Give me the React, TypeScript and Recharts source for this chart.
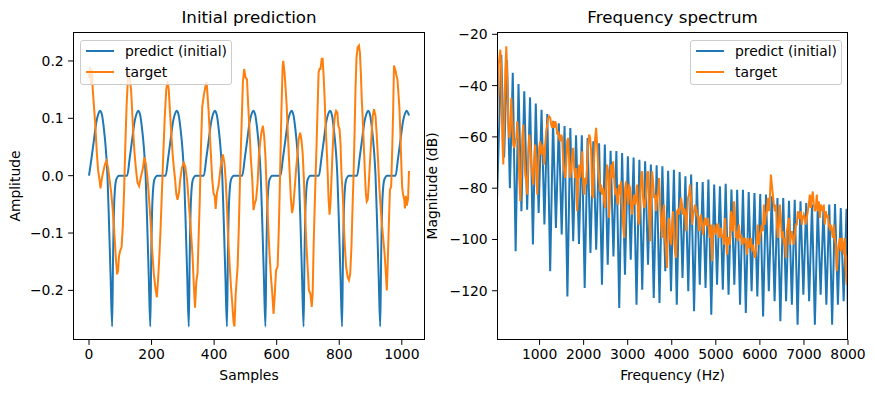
import { Line, LineChart, XAxis, YAxis } from "recharts";

const BLUE = "#1f77b4";
const ORANGE = "#ff7f0e";
const FONT = "'DejaVu Sans', sans-serif";

// time domain, [sample, amplitude]
const predictWave: [number, number][] = [
  [0, 0], [8, 0.03], [16, 0.063], [24, 0.095], [30, 0.108], [35, 0.113], [41, 0.107], [48, 0.08], [54, 0.045], [59, 0], [64, -0.083], [69, -0.175], [74, -0.263], [77, -0.14], [81, -0.042], [87, -0.007], [96, 0], [116, 0],
  [122, 0], [130, 0.03], [138, 0.063], [146, 0.095], [152, 0.108], [157, 0.113], [163, 0.107], [170, 0.08], [176, 0.045], [181, 0], [186, -0.083], [191, -0.175], [196, -0.263], [199, -0.14], [203, -0.042], [209, -0.007], [218, 0], [238, 0],
  [245, 0], [253, 0.03], [261, 0.063], [269, 0.095], [275, 0.108], [280, 0.113], [286, 0.107], [293, 0.08], [299, 0.045], [304, 0], [309, -0.083], [314, -0.175], [319, -0.263], [322, -0.14], [326, -0.042], [332, -0.007], [341, 0], [361, 0],
  [367, 0], [375, 0.03], [383, 0.063], [391, 0.095], [397, 0.108], [402, 0.113], [408, 0.107], [415, 0.08], [421, 0.045], [426, 0], [431, -0.083], [436, -0.175], [441, -0.263], [444, -0.14], [448, -0.042], [454, -0.007], [463, 0], [483, 0],
  [490, 0], [498, 0.03], [506, 0.063], [514, 0.095], [520, 0.108], [525, 0.113], [531, 0.107], [538, 0.08], [544, 0.045], [549, 0], [554, -0.083], [559, -0.175], [564, -0.263], [567, -0.14], [571, -0.042], [577, -0.007], [586, 0], [606, 0],
  [612, 0], [620, 0.03], [628, 0.063], [636, 0.095], [642, 0.108], [647, 0.113], [653, 0.107], [660, 0.08], [666, 0.045], [671, 0], [676, -0.083], [681, -0.175], [686, -0.263], [689, -0.14], [693, -0.042], [699, -0.007], [708, 0], [728, 0],
  [735, 0], [743, 0.03], [751, 0.063], [759, 0.095], [765, 0.108], [770, 0.113], [776, 0.107], [783, 0.08], [789, 0.045], [794, 0], [799, -0.083], [804, -0.175], [809, -0.263], [812, -0.14], [816, -0.042], [822, -0.007], [831, 0], [851, 0],
  [857, 0], [865, 0.03], [873, 0.063], [881, 0.095], [887, 0.108], [892, 0.113], [898, 0.107], [905, 0.08], [911, 0.045], [916, 0], [921, -0.083], [926, -0.175], [931, -0.263], [934, -0.14], [938, -0.042], [944, -0.007], [953, 0], [973, 0],
  [980, 0], [988, 0.03], [996, 0.063], [1004, 0.095], [1010, 0.108], [1015, 0.113], [1021, 0.108], [1023, 0.105]
];

const targetWave: [number, number][] = [
  [0, 0.17], [3, 0.19], [6, 0.16], [9, 0.185], [12, 0.15], [16, 0.12], [20, 0.09], [25, 0.04], [29, 0.01], [33, -0.005], [37, -0.022], [41, -0.005], [46, 0.008], [51, 0.02], [56, 0.026], [61, 0.013], [66, -0.008], [71, -0.03], [76, -0.06], [81, -0.1], [86, -0.145], [90, -0.172], [93, -0.165], [96, -0.14], [100, -0.13], [104, -0.125], [108, -0.09], [112, -0.03], [116, 0.05], [120, 0.12],
  [124, 0.165], [127, 0.18], [131, 0.17], [135, 0.145], [140, 0.09], [145, 0.043], [150, 0.012], [155, -0.012], [160, -0.018], [166, -0.002], [172, 0.012], [177, 0.032], [182, 0.02], [187, -0.005], [192, -0.04], [197, -0.08], [202, -0.13], [207, -0.17], [212, -0.195], [217, -0.212], [221, -0.18], [225, -0.14], [229, -0.09], [233, -0.03], [237, 0.03], [242, 0.1],
  [247, 0.15], [251, 0.165], [255, 0.15], [259, 0.11], [263, 0.075], [267, 0.04], [271, 0.015], [275, -0.005], [279, -0.032], [283, -0.042], [288, -0.028], [292, -0.005], [297, 0.014], [303, 0.022], [308, 0.015], [314, -0.01], [320, -0.055], [325, -0.09], [331, -0.14], [335, -0.19], [339, -0.23], [343, -0.185], [347, -0.17], [350, -0.115], [354, -0.045], [358, 0.05], [362, 0.12],
  [367, 0.14], [372, 0.155], [376, 0.163], [382, 0.116], [386, 0.075], [390, 0.034], [394, -0.007], [398, -0.03], [402, -0.036], [405, -0.058], [409, -0.03], [414, -0.018], [421, 0.016], [428, 0.037], [433, 0.022], [437, -0.007], [441, -0.054], [445, -0.11], [450, -0.159], [454, -0.194], [458, -0.223], [462, -0.255], [465, -0.263], [469, -0.206], [472, -0.182], [475, -0.16], [479, -0.09], [483, 0], [488, 0.092],
  [492, 0.163], [496, 0.186], [500, 0.172], [505, 0.168], [509, 0.122], [513, 0.081], [517, 0.034], [522, -0.007], [526, -0.06], [530, -0.048], [534, -0.042], [539, -0.013], [543, 0.034], [547, 0.057], [551, 0.075], [556, 0.087], [560, 0.069], [564, 0.034], [568, -0.025], [573, -0.089], [577, -0.136], [581, -0.171], [586, -0.206], [590, -0.241], [594, -0.206], [598, -0.165], [603, -0.159], [607, -0.089], [611, 0.005], [615, 0.11],
  [619, 0.19], [621, 0.2], [625, 0.18], [628, 0.157], [632, 0.122], [636, 0.069], [641, 0.011], [645, -0.036], [649, -0.065], [653, -0.054], [658, -0.019], [662, 0.011], [666, 0.034], [670, 0.063], [675, 0.075], [679, 0.063], [683, 0.04], [687, -0.007], [691, -0.07], [695, -0.12], [699, -0.16], [703, -0.2], [708, -0.206], [712, -0.229], [715, -0.206], [718, -0.124], [721, -0.065], [724, -0.007], [728, 0.063], [731, 0.122],
  [734, 0.18], [737, 0.186], [740, 0.186], [744, 0.204], [747, 0.204], [750, 0.174], [753, 0.139], [756, 0.092], [760, 0.046], [763, 0.005], [766, -0.042], [769, -0.068], [772, -0.048], [776, 0.005], [779, 0.046], [782, 0.081], [786, 0.104], [790, 0.113], [794, 0.11], [797, 0.087], [801, 0.081], [804, 0.057], [807, 0.005], [812, -0.042], [815, -0.089], [818, -0.124], [822, -0.159], [827, -0.177], [831, -0.182], [835, -0.171], [839, -0.124], [842, -0.065], [846, 0.005], [849, 0.075],
  [852, 0.151], [855, 0.204], [859, 0.224], [863, 0.227], [866, 0.215], [869, 0.18], [872, 0.133], [876, 0.087], [879, 0.046], [882, 0.005], [885, -0.03], [888, -0.045], [891, -0.042], [894, -0.019], [898, 0.022], [903, 0.069], [907, 0.104], [911, 0.116], [916, 0.104], [920, 0.069], [924, 0.028], [928, -0.019], [933, -0.06], [937, -0.089], [941, -0.112], [945, -0.136], [949, -0.171], [952, -0.2], [954, -0.171], [958, -0.095], [962, -0.025], [966, -0.019], [969, 0.04], [972, 0.104],
  [975, 0.192], [980, 0.183], [983, 0.174], [986, 0.168], [989, 0.145], [992, 0.122], [995, 0.081], [998, 0.028], [1001, -0.019], [1004, -0.033], [1008, -0.042], [1010, -0.057], [1013, -0.035], [1016, -0.052], [1020, -0.04], [1023, 0.008]
];

const sampleTicks = [0, 200, 400, 600, 800, 1000];
const ampTicks = [-0.2, -0.1, 0, 0.1, 0.2];

// spectrum, [Hz, dB]
const predictSpectrum: [number, number][] = [
  [34, -84.6], [131, -28], [196, -68], [261, -30], [326, -80], [392, -35], [457, -104.6], [522, -39.4], [588, -89], [653, -42.2], [718, -88.4], [784, -44.6], [849, -102], [914, -47], [979, -89.7],
  [1045, -49.4], [1110, -94.2], [1175, -51.1], [1241, -112.4], [1306, -53.7], [1371, -95.5], [1437, -54.7], [1502, -98.1], [1567, -55.8], [1632, -122.2], [1698, -56.5], [1763, -100.7], [1828, -59.4], [1894, -101.8], [1959, -59.4],
  [2024, -118.9], [2090, -60.4], [2155, -105.3], [2220, -61.7], [2285, -104], [2351, -62.5], [2416, -117.6], [2481, -63], [2547, -109.8], [2612, -65.4], [2677, -106.6], [2743, -65.5], [2808, -126.7], [2873, -66.3], [2938, -113.7],
  [3004, -67.6], [3069, -107.9], [3134, -68], [3200, -125.4], [3265, -68.9], [3330, -119.6], [3396, -69.5], [3461, -109.8], [3526, -70.8], [3591, -122.8], [3657, -71.1], [3722, -124.8], [3787, -71.5], [3853, -112.4], [3918, -73.2], [3983, -120.2],
  [4049, -72.8], [4114, -125.4], [4179, -73.7], [4244, -115], [4310, -75.4], [4375, -120.2], [4440, -74.7], [4506, -128], [4571, -77.6], [4636, -117.6], [4702, -77.6], [4767, -118.9], [4832, -76.6], [4897, -129.3], [4963, -78.6],
  [5028, -117.6], [5093, -79.3], [5159, -119.6], [5224, -78.3], [5289, -121.5], [5355, -80.5], [5420, -117.6], [5485, -80.6], [5550, -125.4], [5616, -80.6], [5681, -128.7], [5746, -81.5], [5812, -120.2], [5877, -81.9], [5942, -122.2],
  [6008, -82.3], [6073, -130], [6138, -82.5], [6203, -120.2], [6269, -83.2], [6334, -124.1], [6399, -83.8], [6465, -131.9], [6530, -83.8], [6595, -124.1], [6661, -84.9], [6726, -125.4], [6791, -84.5], [6856, -133.2], [6922, -85.1], [6987, -121.5],
  [7052, -85.8], [7118, -124.1], [7183, -86.4], [7248, -133.2], [7314, -87.1], [7379, -121.5], [7444, -87.5], [7509, -125.4], [7575, -86.4], [7640, -133.2], [7705, -86.2], [7771, -125.4], [7836, -87.7], [7901, -124.1], [7967, -88], [8000, -134]
];

const targetSpectrum: [number, number][] = [
  [34, -58], [71, -31.8], [109, -26], [131, -34.4], [154, -60.4], [177, -70.8], [199, -53.9], [222, -34.4], [245, -24.7], [267, -37], [290, -53.9], [313, -60.4], [335, -57.8], [358, -44.8], [381, -53.9], [403, -63], [426, -64.3], [449, -61.7], [471, -60.4], [494, -53.9],
  [517, -60.4], [539, -76], [562, -85.1], [585, -73.4], [607, -60.4], [630, -55.2], [653, -66.9], [675, -74.7], [698, -77.3], [721, -82.5], [743, -66.9], [766, -59.1], [789, -63], [811, -69.5], [834, -74.7], [857, -78.6], [879, -68.2], [902, -63], [925, -73.4], [947, -82.5],
  [970, -70.8], [992, -64.3], [1015, -61.7], [1038, -66.9], [1060, -63], [1083, -65.6], [1106, -70.8], [1128, -63], [1151, -57.8], [1174, -55.2], [1196, -52.6], [1219, -52], [1242, -52.6], [1264, -55.2], [1287, -56.5], [1310, -53.9], [1332, -56.5], [1355, -53.9], [1378, -55.2], [1400, -59.1],
  [1423, -57.8], [1446, -60.4], [1468, -61.7], [1491, -59.1], [1514, -60.4], [1536, -69.5], [1559, -73.4], [1581, -76], [1604, -70.8], [1627, -61.7], [1649, -60.4], [1672, -69.5], [1695, -76], [1717, -73.4], [1740, -66.9], [1763, -64.3], [1785, -72.1], [1808, -76], [1831, -72.1], [1853, -89],
  [1876, -77.3], [1899, -70.8], [1921, -76], [1944, -70.8], [1967, -65.6], [1989, -77.3], [2012, -82.5], [2035, -76], [2057, -78.6], [2080, -70.8], [2103, -63], [2125, -59.1], [2148, -60.4], [2171, -65.6], [2193, -82.5], [2216, -83.8], [2239, -68.2], [2261, -60.4], [2284, -56.5], [2307, -63],
  [2329, -70.8], [2352, -76], [2375, -81.3], [2397, -78.6], [2420, -82.5], [2443, -80], [2465, -85.1], [2488, -87.7], [2510, -77.3], [2533, -70.8], [2556, -73.4], [2578, -91.6], [2601, -78.6], [2624, -70.8], [2646, -76],
  [2670, -69.5], [2692, -76], [2715, -82.5], [2738, -80], [2760, -85.1], [2783, -86.4], [2806, -78.6], [2828, -82.5], [2851, -77.3], [2874, -86.4], [2896, -94.2], [2919, -99.4], [2942, -80], [2964, -77.3], [2987, -82.5],
  [3010, -86.4], [3032, -78.6], [3055, -80], [3078, -87.7], [3100, -90.3], [3123, -85.1], [3146, -82.5], [3168, -86.4], [3191, -83.8], [3213, -78.6], [3236, -91.6], [3259, -94.2], [3281, -83.8], [3304, -76], [3327, -73.4], [3349, -83.8], [3372, -87.7], [3395, -86.4], [3417, -82.5], [3440, -74.7],
  [3463, -73.4], [3485, -89], [3508, -100.7], [3531, -83.8], [3553, -73.4], [3576, -77.3], [3599, -83.8], [3621, -82.5], [3644, -89], [3667, -83.8], [3689, -81.3], [3712, -76], [3735, -86.4], [3757, -92.9], [3780, -99.4], [3803, -90.3], [3825, -86.4], [3848, -99.4], [3871, -104.6], [3893, -111.1],
  [3916, -94.2], [3939, -91.6], [3961, -99.4], [3984, -102], [4007, -94.2], [4029, -89], [4052, -99.4], [4074, -104.6], [4097, -107.2], [4120, -89], [4142, -88.4], [4165, -90.3], [4188, -87.7], [4210, -83.8], [4233, -86.4], [4256, -90.3], [4278, -87.7], [4301, -89], [4324, -96.8], [4346, -91.6],
  [4369, -83.8], [4392, -82.5], [4414, -78.6], [4437, -83.8], [4460, -94.2], [4482, -91.6], [4505, -89], [4528, -86.4], [4550, -87.7], [4573, -90.3], [4596, -91.6], [4618, -96.8], [4641, -91.6], [4664, -90.3], [4686, -94.2], [4709, -98.1], [4732, -94.2], [4754, -91.6], [4777, -94.2], [4800, -94.2],
  [4822, -91.6], [4845, -96.8], [4868, -99.4], [4890, -94.2], [4913, -108.5], [4936, -96.8], [4958, -94.2], [4981, -96.8], [5004, -98.1], [5026, -94.2], [5049, -94.2], [5072, -99.4], [5094, -96.8], [5117, -95.5], [5140, -99.4], [5162, -98.1], [5185, -102], [5208, -91.6], [5230, -99.4], [5253, -105.9], [5276, -99.4],
  [5298, -99.4], [5321, -102], [5343, -89], [5366, -94.2], [5389, -96.8], [5411, -85.1], [5434, -91.6], [5457, -99.4], [5479, -96.8], [5502, -100.7], [5525, -94.2], [5547, -99.4], [5570, -98.1], [5593, -102], [5615, -99.4], [5638, -100.7], [5661, -99.4], [5683, -102], [5706, -105.9], [5728, -99.4],
  [5751, -103.3], [5774, -102], [5796, -99.4], [5819, -104.6], [5842, -102], [5864, -104.6], [5887, -107.2], [5910, -104.6], [5932, -99.4], [5955, -94.2], [5978, -102], [6000, -99.4], [6023, -96.8], [6046, -94.2], [6068, -96.8], [6091, -86.4], [6114, -94.2], [6136, -90.3], [6159, -89], [6182, -83.8],
  [6204, -89], [6227, -83.8], [6250, -74.7], [6272, -78.6], [6295, -82.5], [6318, -86.4], [6340, -89], [6363, -86.4], [6386, -94.2], [6408, -99.4], [6431, -94.2], [6454, -86.4], [6476, -91.6], [6499, -99.4], [6522, -96.8], [6544, -102], [6567, -99.4], [6590, -107.2], [6612, -96.8], [6635, -94.2],
  [6658, -91.6], [6680, -102], [6703, -99.4], [6726, -96.8], [6748, -99.4], [6771, -102], [6794, -98.1], [6816, -94.2], [6839, -94.2], [6861, -89], [6884, -91.6], [6907, -91.6], [6929, -89], [6952, -94.2], [6975, -91.6], [6997, -90.3], [7020, -91.6], [7043, -94.2], [7065, -91.6], [7088, -89],
  [7111, -86.4], [7133, -82.5], [7156, -87.7], [7179, -83.8], [7201, -81.3], [7224, -86.4], [7247, -89], [7269, -87.7], [7292, -82.5], [7315, -89], [7337, -85.1], [7360, -91.6], [7383, -86.4], [7405, -87.7], [7428, -89], [7451, -86.4], [7473, -94.2], [7496, -89], [7519, -91.6], [7541, -90.3],
  [7564, -94.2], [7587, -95.5], [7609, -94.2], [7632, -96.8], [7655, -99.4], [7677, -94.2], [7700, -99.4], [7722, -102], [7745, -112.4], [7768, -104.6], [7790, -102], [7813, -99.4], [7836, -104.6], [7858, -99.4], [7881, -102], [7904, -105.9], [7926, -99.4], [7949, -112.4], [7972, -117.6], [7987, -105.9]
];

const freqTicks = [1000, 2000, 3000, 4000, 5000, 6000, 7000, 8000];
const dbTicks = [-120, -100, -80, -60, -40, -20];

const rows = (pairs: [number, number][]) => pairs.map(([x, y]) => ({ x, y }));
const minus = (s: string) => s.replace("-", "\u2212");

const tickStyle = { fill: "#000", fontSize: 13.9, fontFamily: FONT };
const LINE_W = 2;

function Panel(props: any) {
  const { left, width, axisW, right, xDomain, yDomain, xTicks, yTicks, yFmt, predict, target } = props;
  const plotW = width - axisW - right;
  return (
    <div style={{ position: "absolute", left, top: 0, width, height: 393 }}>
      <LineChart width={width} height={393} margin={{ top: 32, right, bottom: 0, left: 0 }}>
        <XAxis
          type="number"
          dataKey="x"
          domain={xDomain}
          ticks={xTicks}
          interval={0}
          allowDataOverflow
          height={53}
          axisLine={false}
          tickLine={{ stroke: "#000", strokeWidth: 1 }}
          tickSize={4.9}
          tickMargin={4.4}
          tick={tickStyle}
        />
        <YAxis
          type="number"
          dataKey="y"
          domain={yDomain}
          ticks={yTicks}
          interval={0}
          allowDataOverflow
          width={axisW}
          axisLine={false}
          tickLine={{ stroke: "#000", strokeWidth: 1 }}
          tickSize={4.9}
          tickMargin={4.4}
          tick={tickStyle}
          tickFormatter={yFmt}
        />
        <Line data={rows(predict)} dataKey="y" type={props.predictCurve} stroke={BLUE} strokeWidth={LINE_W} dot={false} isAnimationActive={false} />
        <Line data={rows(target)} dataKey="y" type="linear" stroke={ORANGE} strokeWidth={LINE_W} dot={false} isAnimationActive={false} />
      </LineChart>
      <div
        style={{
          position: "absolute",
          left: axisW,
          top: 32,
          width: plotW,
          height: 308,
          border: "1px solid #000",
          boxSizing: "border-box",
          pointerEvents: "none"
        }}
      />
    </div>
  );
}

function Text({ x, y, size, rotate, children }: any) {
  return (
    <div
      style={{
        position: "absolute",
        left: x,
        top: y,
        transform: `translate(-50%, -50%)${rotate ? " rotate(-90deg)" : ""}`,
        whiteSpace: "nowrap",
        fontFamily: FONT,
        fontSize: size,
        color: "#000",
        lineHeight: 1
      }}
    >
      {children}
    </div>
  );
}

function LegendBox({ left }: { left: number }) {
  const item = (color: string, label: string, cy: number) => (
    <div style={{ position: "absolute", left: 0, top: cy, width: "100%" }}>
      <div style={{ position: "absolute", left: 5, top: -1, width: 28, height: 2, background: color }} />
      <div style={{ position: "absolute", left: 44, top: -9, fontFamily: FONT, fontSize: 13.9, lineHeight: "18px", color: "#000", whiteSpace: "nowrap" }}>
        {label}
      </div>
    </div>
  );
  return (
    <div
      style={{
        position: "absolute",
        left,
        top: 40,
        width: 152,
        height: 45,
        border: "1px solid #cccccc",
        borderRadius: 3,
        background: "rgba(255,255,255,0.8)",
        boxSizing: "border-box"
      }}
    >
      {item(BLUE, "predict (initial)", 10)}
      {item(ORANGE, "target", 31)}
    </div>
  );
}

export default function App() {
  return (
    <div style={{ position: "fixed", left: 0, top: 0, width: 875, height: 393, background: "#fff", overflow: "hidden" }}>
      <Panel
        left={0}
        width={437}
        axisW={73}
        right={12}
        xDomain={[-51.15, 1074.15]}
        yDomain={[-0.2865, 0.2505]}
        xTicks={sampleTicks}
        yTicks={ampTicks}
        yFmt={(v: number) => minus(v.toFixed(1))}
        predict={predictWave}
        target={targetWave}
        predictCurve="monotone"
      />
      <Panel
        left={437}
        width={438}
        axisW={60}
        right={27}
        xDomain={[34, 8000]}
        yDomain={[-139.2, -19.1]}
        xTicks={freqTicks}
        yTicks={dbTicks}
        yFmt={(v: number) => minus(String(v))}
        predict={predictSpectrum}
        target={targetSpectrum}
        predictCurve="linear"
      />
      <LegendBox left={80} />
      <LegendBox left={690} />
      <Text x={249} y={17} size={16.7}>Initial prediction</Text>
      <Text x={672.5} y={17} size={16.7}>Frequency spectrum</Text>
      <Text x={249} y={376} size={13.9}>Samples</Text>
      <Text x={672.5} y={376} size={13.9}>Frequency (Hz)</Text>
      <Text x={16} y={186} size={13.9} rotate>Amplitude</Text>
      <Text x={433} y={186} size={13.9} rotate>Magnitude (dB)</Text>
    </div>
  );
}
